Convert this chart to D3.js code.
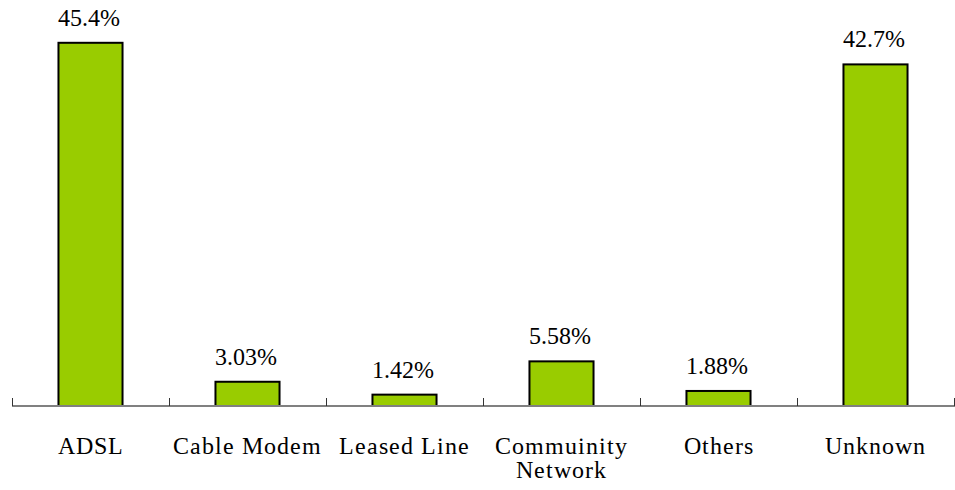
<!DOCTYPE html>
<html>
<head>
<meta charset="utf-8">
<script src="https://cdn.jsdelivr.net/npm/d3@7"></script>
<style>
  @font-face { font-family: "ChartSerif"; src: local("Liberation Serif"), local("LiberationSerif-Regular"), local("Times New Roman"); }
</style>
</head>
<body style="margin:0">
<script>
const categories = ["ADSL", "Cable Modem", "Leased Line", "Commuinity Network", "Others", "Unknown"];
const categoryLines = [["ADSL"], ["Cable Modem"], ["Leased Line"], ["Commuinity", "Network"], ["Others"], ["Unknown"]];
const values = [45.4, 3.03, 1.42, 5.58, 1.88, 42.7];
const valueLabels = ["45.4%", "3.03%", "1.42%", "5.58%", "1.88%", "42.7%"];
const yDomain = [0, 50];

const W = 955, H = 490;
const left = 12, right = 954, baseY = 406, topY = 6;
const FONT = '"ChartSerif", "Liberation Serif"';

const svg = d3.select("body").append("svg").attr("width", W).attr("height", H)
  .style("display", "block");

const x = d3.scaleBand().domain(categories).range([left, right]).padding(0);
const xb = d3.scaleBand().domain(categories).range([left, right]).paddingInner(0.592).paddingOuter(0.296);
const y = d3.scaleLinear().domain(yDomain).range([baseY, topY]);

// bars
svg.append("g").selectAll("rect").data(categories).join("rect")
  .attr("x", d => xb(d))
  .attr("y", (d, i) => y(values[i]))
  .attr("width", xb.bandwidth())
  .attr("height", (d, i) => baseY - y(values[i]))
  .attr("fill", "#99cc00")
  .attr("stroke", "#000")
  .attr("stroke-width", 2);

// axis line
svg.append("line")
  .attr("x1", left).attr("x2", W)
  .attr("y1", baseY).attr("y2", baseY)
  .attr("stroke", "#808080").attr("stroke-width", 2);

// ticks at band boundaries
const tickPos = categories.map(c => x(c)).concat([right]);
svg.append("g").selectAll("line").data(tickPos).join("line")
  .attr("x1", d => Math.round(d) + 0.5).attr("x2", d => Math.round(d) + 0.5)
  .attr("y1", baseY - 8).attr("y2", baseY)
  .attr("stroke", "#333").attr("stroke-width", 1);

// value labels
svg.append("g").selectAll("text").data(categories).join("text")
  .attr("x", d => x(d) + x.bandwidth() / 2 - 2)
  .attr("y", (d, i) => y(values[i]) - 17)
  .attr("text-anchor", "middle")
  .style("font-family", FONT, "important")
  .attr("font-size", 23.5)
  .text((d, i) => valueLabels[i]);

// category labels
categories.forEach((c, i) => {
  const cx = x(c) + x.bandwidth() / 2;
  categoryLines[i].forEach((ln, j) => {
    svg.append("text")
      .attr("x", cx)
      .attr("y", 454 + j * 24)
      .attr("text-anchor", "middle")
      .style("font-family", FONT, "important")
      .style("letter-spacing", "1px")
      .attr("font-size", 24)
      .text(ln);
  });
});
</script>
</body>
</html>
